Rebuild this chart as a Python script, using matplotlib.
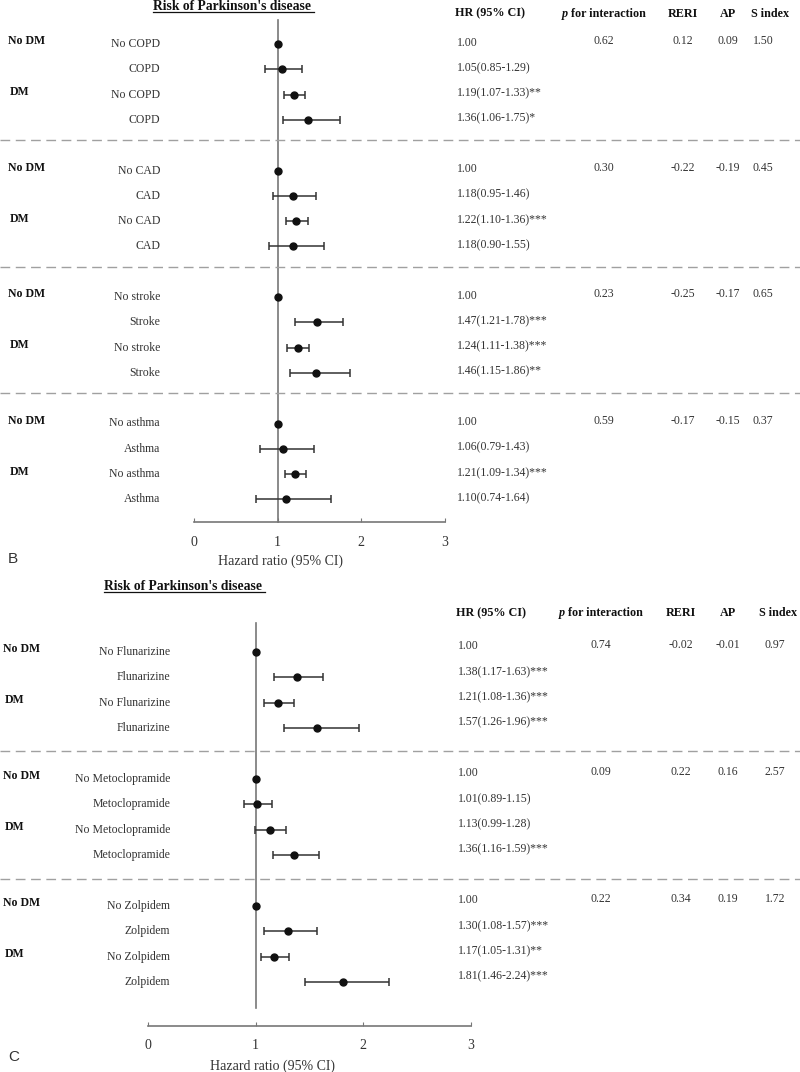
import matplotlib
matplotlib.use("Agg")
import matplotlib.pyplot as plt
import numpy as np
from matplotlib.transforms import blended_transform_factory
from matplotlib.lines import Line2D

plt.rcParams['font.family'] = ['Liberation Serif', 'DejaVu Serif']

W, H = 800, 1072

# ---- panel B: comorbidities ----
b_labels = ["No COPD", "COPD", "No COPD", "COPD",
            "No CAD", "CAD", "No CAD", "CAD",
            "No stroke", "Stroke", "No stroke", "Stroke",
            "No asthma", "Asthma", "No asthma", "Asthma"]
b_hr = [1.00, 1.05, 1.19, 1.36, 1.00, 1.18, 1.22, 1.18,
        1.00, 1.47, 1.24, 1.46, 1.00, 1.06, 1.21, 1.10]
b_lo = [1.00, 0.85, 1.07, 1.06, 1.00, 0.95, 1.10, 0.90,
        1.00, 1.21, 1.11, 1.15, 1.00, 0.79, 1.09, 0.74]
b_hi = [1.00, 1.29, 1.33, 1.75, 1.00, 1.46, 1.36, 1.55,
        1.00, 1.78, 1.38, 1.86, 1.00, 1.43, 1.34, 1.64]
b_stars = ["", "", "**", "*", "", "", "***", "",
           "", "***", "***", "**", "", "", "***", ""]
b_p = ["0.62", "0.30", "0.23", "0.59"]
b_reri = ["0.12", "-0.22", "-0.25", "-0.17"]
b_ap = ["0.09", "-0.19", "-0.17", "-0.15"]
b_s = ["1.50", "0.45", "0.65", "0.37"]

# ---- panel C: medications ----
c_labels = ["No Flunarizine", "Flunarizine", "No Flunarizine", "Flunarizine",
            "No Metoclopramide", "Metoclopramide", "No Metoclopramide", "Metoclopramide",
            "No Zolpidem", "Zolpidem", "No Zolpidem", "Zolpidem"]
c_hr = [1.00, 1.38, 1.21, 1.57, 1.00, 1.01, 1.13, 1.36, 1.00, 1.30, 1.17, 1.81]
c_lo = [1.00, 1.17, 1.08, 1.26, 1.00, 0.89, 0.99, 1.16, 1.00, 1.08, 1.05, 1.46]
c_hi = [1.00, 1.63, 1.36, 1.96, 1.00, 1.15, 1.28, 1.59, 1.00, 1.57, 1.31, 2.24]
c_stars = ["", "***", "***", "***", "", "", "", "***", "", "***", "**", "***"]
c_p = ["0.74", "0.09", "0.22"]
c_reri = ["-0.02", "0.22", "0.34"]
c_ap = ["-0.01", "0.16", "0.19"]
c_s = ["0.97", "2.57", "1.72"]

xticks = [0, 1, 2, 3]

TXT = '#333333'
BOLD = '#111111'

fig = plt.figure(figsize=(8, 10.72), dpi=100)


def X(px):
    return px / W


def panel(labels, hr, lo, hi, stars, p, reri, ap, s, cfg):
    left, right, top, bottom, y0, unit = cfg['box']
    ax = fig.add_axes([left / W, 1 - bottom / H, (right - left) / W, (bottom - top) / H])
    ax.set_xlim(0, 3)
    ax.set_ylim((bottom - y0) / unit, (top - y0) / unit)
    for side in ['top', 'right', 'left']:
        ax.spines[side].set_visible(False)
    ax.spines['bottom'].set_color('#777777')
    ax.spines['bottom'].set_linewidth(1.2)
    ax.set_yticks([])
    ax.set_xticks(xticks)
    ax.tick_params(axis='x', direction='in', length=3, color='#777777',
                   pad=cfg['pad'], labelsize=10, labelcolor=TXT)
    ax.patch.set_alpha(0)

    n = len(hr)
    rows = np.array([(i // 4) * 5 + i % 4 for i in range(n)], dtype=float)
    hr = np.array(hr)
    lo = np.array(lo)
    hi = np.array(hi)

    # reference line at HR = 1
    ax.plot([1, 1], cfg['vline'], color='#777777', lw=1.2, clip_on=False, zorder=1)
    m = hi > lo
    ax.errorbar(hr[m], rows[m], xerr=[hr[m] - lo[m], hi[m] - hr[m]], fmt='none',
                ecolor='#333333', elinewidth=1.1, capsize=3, capthick=1.1, zorder=2)
    ax.plot(hr, rows, 'o', color='#111111', ms=5, zorder=3, clip_on=False)

    tr = blended_transform_factory(fig.transFigure, ax.transData)

    # dashed separators across the whole width
    for yy in cfg['seps']:
        fig.add_artist(Line2D([0, 1], [yy, yy], transform=tr, color='#a0a0a0',
                              lw=1.0, linestyle=(0, (7, 4))))

    t = fig.text(X(cfg['title_x']), cfg['title_y'], "Risk of Parkinson's disease",
                 transform=tr, fontsize=9.8, fontweight='bold', color=BOLD,
                 ha='left', va='center')
    hy = cfg['head_y']
    fig.text(X(cfg['hr_x']), hy, "HR (95% CI)", transform=tr, fontsize=8.7,
             fontweight='bold', color=BOLD, ha='left', va='center')
    pt = fig.text(X(cfg['p_x'] - 42), hy, "p", transform=tr, fontsize=8.7,
                  fontweight='bold', fontstyle='italic', color=BOLD, ha='left', va='center')
    fig.text(X(cfg['reri_x']), hy, "RERI", transform=tr, fontsize=8.7,
             fontweight='bold', color=BOLD, ha='center', va='center')
    fig.text(X(cfg['ap_x']), hy, "AP", transform=tr, fontsize=8.7,
             fontweight='bold', color=BOLD, ha='center', va='center')
    fig.text(X(cfg['s_x']), hy, "S index", transform=tr, fontsize=8.7,
             fontweight='bold', color=BOLD, ha='center', va='center')

    for i in range(n):
        y = rows[i]
        fig.text(X(cfg['lab_x']), y, labels[i], transform=tr, fontsize=8.5,
                 color=TXT, ha='right', va='center')
        if hi[i] > lo[i]:
            s_hr = f"{hr[i]:.2f}({lo[i]:.2f}-{hi[i]:.2f}){stars[i]}"
        else:
            s_hr = f"{hr[i]:.2f}"
        fig.text(X(cfg['hr_x'] + 2), y + cfg['txt_dy'], s_hr, transform=tr,
                 fontsize=8.5, color=TXT, ha='left', va='center')
        if i % 4 == 0:
            fig.text(X(cfg['dm_x']), y - 0.1, "No DM", transform=tr, fontsize=8.5,
                     fontweight='bold', color=BOLD, ha='left', va='center')
            fig.text(X(cfg['dm_x'] + 2), y + 1.9, "DM", transform=tr, fontsize=8.5,
                     fontweight='bold', color=BOLD, ha='left', va='center')
            g = i // 4
            yy = y + cfg['txt_dy'] - 0.05
            fig.text(X(cfg['p_x']), yy, p[g], transform=tr, fontsize=8.5, color=TXT,
                     ha='center', va='center')
            fig.text(X(cfg['reri_x']), yy, reri[g], transform=tr, fontsize=8.5, color=TXT,
                     ha='center', va='center')
            fig.text(X(cfg['ap_x']), yy, ap[g], transform=tr, fontsize=8.5, color=TXT,
                     ha='center', va='center')
            fig.text(X(cfg['sv_x']), yy, s[g], transform=tr, fontsize=8.5, color=TXT,
                     ha='center', va='center')

    fig.text(X(cfg['xl_x']), cfg['xl_y'], "Hazard ratio (95% CI)", transform=tr,
             fontsize=10, color=TXT, ha='center', va='center')
    fig.text(X(8), cfg['tag_y'], cfg['tag'], transform=tr, fontsize=11,
             family='Liberation Sans', color=TXT, ha='left', va='center')
    return t, pt


b_cfg = dict(box=(194, 445, 20, 522, 44, 25.3), pad=10, vline=[-0.95, 18.89],
             seps=[3.8, 8.8, 13.8], title_x=153, title_y=-1.47, head_y=-1.2,
             hr_x=455, p_x=604, reri_x=683, ap_x=728, s_x=770, sv_x=763,
             lab_x=160, dm_x=8, txt_dy=-0.05, xl_x=281, xl_y=20.45, tag_y=20.35, tag='B')
c_cfg = dict(box=(148, 471, 623, 1026, 652, 25.4), pad=9.5, vline=[-1.14, 14.0],
             seps=[3.9, 8.94], title_x=104, title_y=-2.56, head_y=-1.53,
             hr_x=456, p_x=601, reri_x=681, ap_x=728, s_x=778, sv_x=775,
             lab_x=170, dm_x=3, txt_dy=-0.22, xl_x=272, xl_y=16.3, tag_y=15.95, tag='C')

titles = []
pvals = []
for args, cfg in [((b_labels, b_hr, b_lo, b_hi, b_stars, b_p, b_reri, b_ap, b_s), b_cfg),
                  ((c_labels, c_hr, c_lo, c_hi, c_stars, c_p, c_reri, c_ap, c_s), c_cfg)]:
    t, pt = panel(*args, cfg)
    titles.append(t)
    pvals.append(pt)

# underline the titles, and put " for interaction" right after the italic p
r = fig.canvas.get_renderer()
for t in titles:
    bb = t.get_window_extent(r)
    yl = bb.y0 + 1
    fig.add_artist(Line2D([bb.x0 / W, (bb.x1 + 3) / W], [yl / H, yl / H],
                          transform=fig.transFigure, color=BOLD, lw=0.9))
for pt in pvals:
    bb = pt.get_window_extent(r)
    fig.text(bb.x1 / W, bb.y0 / H, " for interaction", fontsize=8.7,
             fontweight='bold', color=BOLD, ha='left', va='bottom')

fig.savefig('out.png', dpi=100)
